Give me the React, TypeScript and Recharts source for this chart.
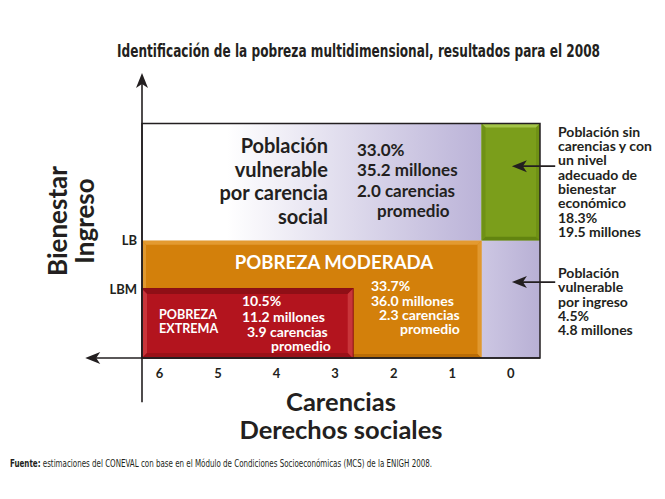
import React from "react"
import { ComposedChart, XAxis, YAxis, ReferenceArea, ReferenceLine } from "recharts"

// carencias sociales (x, reversed) and income thresholds (y)
const carencias = [6, 5, 4, 3, 2, 1, 0]
const incomeTicks = [1, 1.7]
const incomeTickLabels = ["LBM", "LB"]

// group extents: carencias x1 -> x2, ingreso y1 -> y2
const groupX1 = [6.3, 0.5, 0.5, 6.3, 6.3]
const groupX2 = [0.5, -0.5, -0.5, 0.5, 2.7]
const groupY1 = [1.7, 1.7, 0, 0, 0]
const groupY2 = [3.4, 3.4, 1.7, 1.7, 1]

const vulnerableCarenciaName = ["Población", "vulnerable", "por carencia", "social"]
const vulnerableCarenciaStats = ["33.0%", "35.2 millones", "2.0 carencias", "promedio"]
const moderadaName = "POBREZA MODERADA"
const moderadaStats = ["33.7%", "36.0 millones", "2.3 carencias", "promedio"]
const extremaName = ["POBREZA", "EXTREMA"]
const extremaStats = ["10.5%", "11.2 millones", "3.9 carencias", "promedio"]
const noPobreNote = ["Población sin", "carencias y con", "un nivel", "adecuado de", "bienestar", "económico", "18.3%", "19.5 millones"]
const vulnerableIngresoNote = ["Población", "vulnerable", "por ingreso", "4.5%", "4.8 millones"]

// note arrows: from x start to x end at y
const noteArrowY = [2.78, 1.1]
const noteArrowFrom = -0.76
const noteArrowTo = -0.02

const title = "Identificación de la pobreza multidimensional, resultados para el 2008"
const sourceLabel = "Fuente:"
const sourceText = " estimaciones del CONEVAL con base en el Módulo de Condiciones Socioeconómicas (MCS) de la ENIGH 2008."

const points = carencias.map((c) => ({ c }))

const FONT = "Lato, 'Open Sans', sans-serif"
const NARROW = "'Liberation Sans Narrow', 'DejaVu Sans Condensed', sans-serif"
const INK = "#231f20"

function bevel(base: string, light: string, side: string, dark: string, e: number, outline?: string) {
    return (p: any) => {
        const { x, y, width: w, height: h } = p
        return (
            <g>
                <rect x={x} y={y} width={w} height={h} fill={base} stroke={outline || "none"} strokeWidth={outline ? 2 : 0} />
                <polygon points={`${x},${y} ${x + w},${y} ${x + w - e},${y + e} ${x + e},${y + e}`} fill={light} />
                <polygon points={`${x},${y} ${x + e},${y + e} ${x + e},${y + h - e} ${x},${y + h}`} fill={side} />
                <polygon points={`${x + w},${y} ${x + w},${y + h} ${x + w - e},${y + h - e} ${x + w - e},${y + e}`} fill={side} />
                <polygon points={`${x},${y + h} ${x + w},${y + h} ${x + w - e},${y + h - e} ${x + e},${y + h - e}`} fill={dark} />
            </g>
        )
    }
}

const gradientShape = (id: string, from: string, mid: number, to: string) => (p: any) => (
    <g>
        <defs>
            <linearGradient id={id} x1="0" y1="0" x2="1" y2="0">
                <stop offset="0%" stopColor={from} />
                <stop offset={`${mid}%`} stopColor={from} />
                <stop offset="100%" stopColor={to} />
            </linearGradient>
        </defs>
        <rect x={p.x} y={p.y} width={p.width} height={p.height} fill={`url(#${id})`} />
    </g>
)

const arrowShape = (p: any) => {
    const { x1, y1, x2, y2 } = p
    const a = Math.atan2(y2 - y1, x2 - x1)
    const L = 15, W = 6, back = 11
    const pt = (d: number, s: number) =>
        `${x2 - Math.cos(a) * d - Math.sin(a) * s},${y2 - Math.sin(a) * d + Math.cos(a) * s}`
    return (
        <g>
            <line x1={x1} y1={y1} x2={x2 - Math.cos(a) * 8} y2={y2 - Math.sin(a) * 8} stroke={INK} strokeWidth={1.6} />
            <polygon points={`${x2},${y2} ${pt(L, W)} ${pt(back, 0)} ${pt(L, -W)}`} fill={INK} />
        </g>
    )
}

const lines = (
    rows: string[], xs: number[], ys: number[], size: number, fill: string, anchor: string = "start",
) => rows.map((r, i) => (
    <text key={i} x={xs[i]} y={ys[i]} fontSize={size} fontWeight={700} fontFamily={FONT} fill={fill} textAnchor={anchor as any}>
        {r}
    </text>
))

const vulnerableLabel = ({ viewBox: v }: any) => (
    <g>
        {lines(vulnerableCarenciaName, [186, 186, 186, 186].map((d) => v.x + d), [30, 54, 77, 101].map((d) => v.y + d), 20, INK, "end")}
        {lines(vulnerableCarenciaStats, [215, 215, 215, 235].map((d) => v.x + d), [33, 53, 74, 94].map((d) => v.y + d), 17, INK)}
    </g>
)

const moderadaLabel = ({ viewBox: v }: any) => (
    <g>
        <text x={v.x + 192} y={v.y + 28} fontSize={18.6} fontWeight={700} fontFamily={FONT} fill="#fff" textAnchor="middle">
            {moderadaName}
        </text>
        {lines(moderadaStats, [229, 229, 237, 258].map((d) => v.x + d), [50, 65, 79, 93].map((d) => v.y + d), 14, "#fff")}
    </g>
)

const extremaLabel = ({ viewBox: v }: any) => (
    <g>
        {lines(extremaName, [17, 17].map((d) => v.x + d), [30.5, 44.5].map((d) => v.y + d), 12.6, "#fff")}
        {lines(extremaStats, [100, 100, 105, 129].map((d) => v.x + d), [17.5, 33.5, 48.5, 62.5].map((d) => v.y + d), 14, "#fff")}
    </g>
)

const noteLabel = (rows: string[], top: number) => ({ viewBox: v }: any) => (
    <g>
        {lines(rows, rows.map(() => v.x + v.width + 18), rows.map((_, i) => v.y + top + 14.3 * i), 14, INK)}
    </g>
)

const xTitle = ({ viewBox: v }: any) => (
    <g fontFamily={FONT} fontWeight={700} fontSize={25.5} fill={INK} textAnchor="middle">
        <text x={v.x + v.width / 2} y={v.y + 53}>Carencias</text>
        <text x={v.x + v.width / 2} y={v.y + 81}>Derechos sociales</text>
    </g>
)

const yTitle = ({ viewBox: v }: any) => {
    const cy = v.y + 148
    return (
        <g fontFamily={FONT} fontWeight={700} fontSize={26} fill={INK} textAnchor="middle">
            <text x={v.x + 25} y={cy} transform={`rotate(-90 ${v.x + 25} ${cy})`}>Bienestar</text>
            <text x={v.x + 52} y={cy} transform={`rotate(-90 ${v.x + 52} ${cy})`}>Ingreso</text>
        </g>
    )
}

export default function App() {
    return (
        <div style={{ position: "absolute", left: 0, top: 0, width: 665, height: 499, background: "#fff" }}>
            <ComposedChart width={665} height={499} data={points} margin={{ top: 73, right: 125, bottom: 51, left: 42 }}>
                <XAxis
                    dataKey="c" type="number" domain={[-0.5, 6.3]} reversed allowDataOverflow
                    ticks={carencias} interval={0} axisLine={false} tickLine={false} tickSize={0} tickMargin={11}
                    tick={{ fontSize: 13, fontWeight: 700, fontFamily: FONT, fill: INK }}
                    height={90} label={xTitle}
                />
                <YAxis
                    type="number" domain={[0, 4.13]} allowDataOverflow ticks={incomeTicks}
                    tickFormatter={(v: number) => incomeTickLabels[incomeTicks.indexOf(v)]}
                    axisLine={false} tickLine={false} tickSize={0} tickMargin={5} width={100}
                    tick={{ fontSize: 13, fontWeight: 700, fontFamily: FONT, fill: INK }}
                    label={yTitle}
                />
                <ReferenceArea x1={groupX1[0]} x2={groupX2[0]} y1={groupY1[0]} y2={groupY2[0]}
                    shape={gradientShape("vulnGrad", "#ffffff", 25, "#bbb3d8")} label={vulnerableLabel} />
                <ReferenceArea x1={groupX1[1]} x2={groupX2[1]} y1={groupY1[1]} y2={groupY2[1]}
                    shape={bevel("#7b9e1b", "#a3c447", "#6f9115", "#628410", 4)} label={noteLabel(noPobreNote, 13.5)} />
                <ReferenceArea x1={groupX1[2]} x2={groupX2[2]} y1={groupY1[2]} y2={groupY2[2]}
                    shape={gradientShape("ingGrad", "#cdc7e3", 0, "#b8b0d5")} label={noteLabel(vulnerableIngresoNote, 37.5)} />
                <ReferenceArea x1={groupX1[3]} x2={groupX2[3]} y1={groupY1[3]} y2={groupY2[3]}
                    shape={bevel("#d3800b", "#e39a30", "#e0982f", "#b96c06", 4)} label={moderadaLabel} />
                <ReferenceArea x1={groupX1[4]} x2={groupX2[4]} y1={groupY1[4]} y2={groupY2[4]}
                    shape={bevel("#b3141e", "#8f0f16", "#c9353a", "#9a1118", 5, "#8a0e14")} label={extremaLabel} />
                <ReferenceArea x1={6.3} x2={-0.5} y1={0} y2={3.4} fill="none" stroke={INK} strokeWidth={1.5} />
                <ReferenceLine segment={[{ x: 6.3, y: -0.64 }, { x: 6.3, y: 4.13 }]} ifOverflow="visible" shape={arrowShape} />
                <ReferenceLine segment={[{ x: -0.5, y: 0 }, { x: 7.27, y: 0 }]} ifOverflow="visible" shape={arrowShape} />
                {noteArrowY.map((y, i) => (
                    <ReferenceLine key={i} segment={[{ x: noteArrowFrom, y }, { x: noteArrowTo, y }]} ifOverflow="visible" shape={arrowShape} />
                ))}
            </ComposedChart>
            <svg width={665} height={499} style={{ position: "absolute", left: 0, top: 0, pointerEvents: "none" }}>
                <text x={117} y={57} fontFamily={NARROW} fontWeight={700} fontSize={18} fill={INK} textLength={483} lengthAdjust="spacingAndGlyphs">
                    {title}
                </text>
                <text x={10} y={467} fontFamily={NARROW} fontSize={10} fill={INK} textLength={422} lengthAdjust="spacingAndGlyphs">
                    <tspan fontWeight={700}>{sourceLabel}</tspan>
                    {sourceText}
                </text>
            </svg>
        </div>
    )
}
